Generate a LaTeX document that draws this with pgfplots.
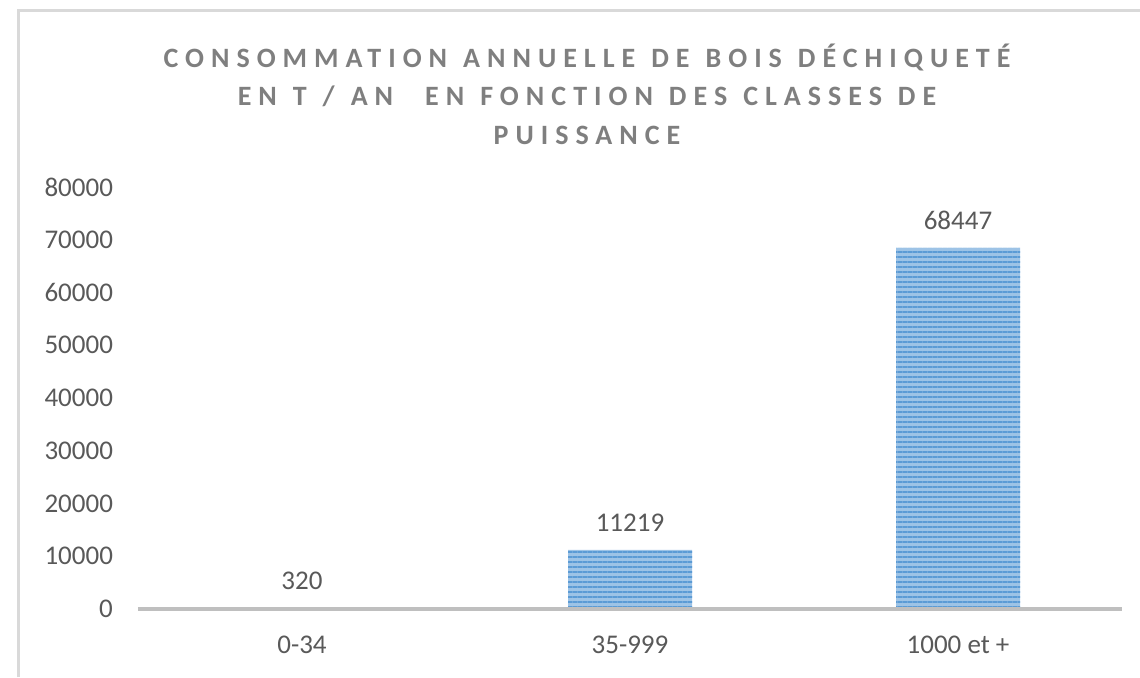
\documentclass[border=0pt]{standalone}
\usepackage{fontspec}
\setmainfont{Carlito}
\newfontfamily\titlefont[LetterSpace=25,WordSpace=1.2]{Carlito}
\usepackage{pgfplots}
\pgfplotsset{compat=1.18}
\usetikzlibrary{patterns.meta}
\definecolor{ticktext}{HTML}{595959}
\definecolor{titlegray}{HTML}{7F7F7F}
\definecolor{barlight}{HTML}{9DC3E6}
\definecolor{barblue}{HTML}{5B9BD5}
\definecolor{axisgray}{HTML}{BFBFBF}
\definecolor{framegray}{HTML}{D9D9D9}

\begin{document}
\begin{tikzpicture}
\useasboundingbox (0,0) rectangle (570pt,338.5pt);
\draw[framegray,line width=1.5pt] (9pt,0) -- (9pt,333.5pt) -- (570pt,333.5pt);
\node[align=center,text=titlegray,font=\titlefont\bfseries\fontsize{14}{19.25}\selectfont]
  at (293.5pt,291.5pt) {CONSOMMATION ANNUELLE DE BOIS DÉCHIQUETÉ\\EN T / AN\ \ EN FONCTION DES CLASSES DE\\PUISSANCE};
\begin{axis}[at={(69pt,34pt)},anchor=south west,
scale only axis,width=492pt,height=211pt,
xmin=-0.5,xmax=2.5,ymin=0,ymax=80000,
ybar,bar width=62pt,axis on top,
xtick={0,1,2},xticklabels={0-34,35-999,1000 et +},
ytick={0,10000,...,80000},scaled y ticks=false,
axis x line*=bottom,axis y line*=left,
x axis line style={axisgray,line width=2pt,-},
y axis line style={draw=none},
major tick length=0pt,
tick label style={font=\fontsize{13.5}{16}\selectfont,text=ticktext},
/pgf/number format/assume math mode=true,
/pgf/number format/1000 sep={},
yticklabel style={xshift=-9pt},
xticklabel style={yshift=-10pt},
nodes near coords,
every node near coord/.append style={text=ticktext,yshift=5.5pt,font=\fontsize{13.5}{16}\selectfont},
]
\addplot[draw=none,fill=barlight,
  postaction={pattern={Lines[angle=0,distance=2.5pt,line width=1.2pt]},pattern color=barblue}]
  coordinates {(0,320) (1,11219) (2,68447)};
\end{axis}
\end{tikzpicture}
\end{document}
